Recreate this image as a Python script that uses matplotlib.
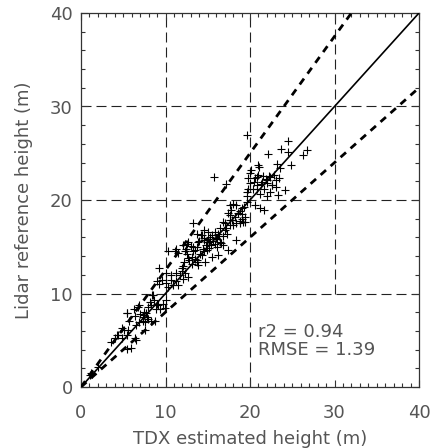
import matplotlib
matplotlib.use("Agg")
import matplotlib.pyplot as plt
from matplotlib.ticker import MultipleLocator

# TDX estimated canopy height vs. lidar reference height (m)
tdx_height = [
    19.6, 24.5, 23.7, 24.5, 26.8, 26.3, 22.1, 21.0, 23.2, 23.6, 24.9, 21.1, 20.1, 15.7, 17.2,
    19.8, 20.0, 20.8, 21.5, 21.9, 22.3, 22.8, 23.1, 23.4, 22.0, 22.6, 21.3, 20.5, 21.6, 22.4,
    24.1, 23.3, 22.0, 20.8, 21.2, 19.7, 19.6, 19.6, 19.3, 20.6, 21.2, 21.7, 18.0, 17.6, 18.8,
    19.1, 19.0, 18.8, 19.2, 17.6, 17.9, 18.3, 17.6, 16.4, 17.0, 16.8, 17.3, 18.4, 13.3, 16.0,
    16.2, 17.4,
    20.6, 21.0, 21.4, 22.0, 22.4, 22.6, 23.1, 20.8, 20.4, 20.0, 19.8,
    19.0, 18.4, 17.8, 18.6, 18.2, 19.4, 19.4, 18.8, 17.6, 17.4, 18.0, 17.0, 17.2, 16.2, 16.8,
    14.5, 14.3, 13.7, 14.5, 13.9, 13.3, 12.7, 12.1, 11.1, 12.3, 13.5, 13.1, 12.7, 13.7, 14.3,
    14.9, 16.1, 16.4, 16.8, 15.5, 14.7, 13.9, 12.1,
    14.8, 15.0, 15.2, 15.4, 15.6, 15.3, 14.9, 15.8, 15.1, 15.5, 16.1, 14.6, 15.9, 16.3, 14.4,
    16.6, 14.2, 15.0, 14.0,
    13.0, 12.6, 13.7, 12.4, 11.3, 11.5, 12.5, 13.2, 12.8, 12.2, 13.5, 13.7, 13.1, 14.1, 14.5,
    11.9, 10.3, 9.2,
    10.0, 10.6, 11.2, 11.7, 11.9, 12.3, 12.7, 12.1, 11.3, 10.6, 10.0, 10.9, 11.5, 10.3, 9.6,
    9.2, 9.0, 8.4, 8.6, 8.2, 9.0, 9.7, 10.1, 9.9, 9.3, 9.1, 8.3, 6.9, 6.3, 5.4,
    6.4, 7.0, 7.5, 7.9, 7.3, 7.6, 8.3, 8.7, 6.9, 6.5, 5.7, 4.9, 7.6, 6.4, 5.4,
    5.9, 4.4, 4.0, 3.6, 4.8, 5.6, 5.4, 6.5, 2.0, 1.2, 1.3, 1.1,
    7.5, 7.7, 7.3, 7.8, 5.5, 6.7, 7.9, 8.5, 8.9, 5.1, 4.3,
]
lidar_height = [
    27.0, 26.3, 25.5, 25.1, 25.3, 24.8, 24.9, 23.7, 23.8, 23.4, 23.7, 23.5, 23.2, 22.5, 21.7,
    22.3, 22.9, 22.5, 22.6, 22.2, 22.6, 22.7, 22.1, 22.4, 21.8, 21.6, 21.7, 21.9, 21.2, 20.9,
    21.1, 20.5, 20.4, 21.2, 20.6, 20.9, 20.4, 19.8, 19.3, 19.5, 19.1, 18.9, 19.6, 19.5, 18.8,
    18.5, 18.0, 17.8, 17.6, 18.4, 17.9, 17.5, 17.3, 17.0, 16.8, 17.6, 16.4, 15.7, 17.5, 15.9,
    14.1, 14.7,
    22.3, 22.7, 21.9, 22.1, 22.5, 21.6, 21.4, 21.6, 21.2, 21.8, 21.2,
    19.1, 19.5, 18.9, 18.6, 18.2, 18.2, 17.7, 17.5, 17.9, 18.6, 17.3, 17.5, 17.0, 16.4, 16.2,
    16.8, 16.3, 16.4, 15.7, 15.5, 15.0, 15.5, 15.2, 14.5, 14.5, 14.6, 13.9, 13.8, 13.6, 14.1,
    14.6, 15.0, 15.5, 15.2, 13.9, 13.4, 13.0, 12.9,
    15.2, 15.8, 15.5, 15.2, 15.6, 16.0, 15.5, 15.3, 14.9, 16.3, 15.8, 15.9, 16.6, 16.2, 14.8,
    15.4, 16.3, 16.6, 15.6,
    15.1, 15.3, 15.0, 14.8, 14.8, 14.3, 14.2, 14.5, 13.6, 13.4, 13.7, 13.4, 13.2, 14.2, 14.5,
    12.7, 14.5, 12.7,
    12.2, 12.0, 12.2, 12.0, 12.4, 12.2, 11.8, 11.5, 11.3, 11.4, 11.1, 10.9, 10.9, 10.7, 11.4,
    11.0, 11.3, 9.8, 9.3, 9.1, 8.9, 8.9, 9.3, 8.4, 8.3, 8.8, 8.8, 8.8, 8.3, 7.9,
    7.6, 7.8, 8.0, 7.3, 7.1, 7.0, 7.1, 7.1, 6.9, 6.6, 7.1, 6.3, 6.1, 5.2, 4.1,
    4.2, 5.6, 5.2, 4.8, 5.2, 6.1, 5.6, 5.0, 2.1, 1.5, 1.4, 1.3,
    7.7, 7.9, 7.5, 7.5, 7.9, 8.6, 8.6, 9.8, 8.3, 6.1, 5.6,
]
r2_value = 0.94
rmse_value = 1.39
band_slopes = [1.25, 0.8]
grid_values = [10, 20, 30]

text_color = "#555555"
plt.rcParams["font.family"] = ["DejaVu Sans"]

fig = plt.figure(figsize=(4.34, 4.48), dpi=100)
ax = fig.add_axes([81 / 434, 61 / 448, 338 / 434, 374 / 448])
ax.set_xlim(0, 40)
ax.set_ylim(0, 40)

# dashed reference grid; the x=30 line stops above the statistics box
for g in grid_values:
    ax.plot([0, 40], [g, g], color="#222222", lw=0.8, dashes=(9, 4.5), zorder=1)
    y_start = 10 if g == 30 else 0
    ax.plot([g, g], [y_start, 40], color="#222222", lw=0.8, dashes=(9, 4.5), zorder=1)

# 1:1 line and +/-25% bounds
ax.plot([0, 40], [0, 40], color="black", lw=1.2, zorder=3)
for s in band_slopes:
    ax.plot([0, 40], [0, 40 * s], color="black", lw=2.0, dashes=(2.6, 2.2), zorder=3)

ax.plot(tdx_height, lidar_height, linestyle="none", marker="+", ms=6,
        mew=0.8, color="black", zorder=4)

ax.text(21.0, 4.9, f"r2 = {r2_value:.2f}\nRMSE = {rmse_value:.2f}",
        fontsize=13, color=text_color, va="center", ha="left",
        linespacing=1.0, zorder=5)

ax.set_xticks([0, 10, 20, 30, 40])
ax.set_yticks([0, 10, 20, 30, 40])
ax.xaxis.set_minor_locator(MultipleLocator(1))
ax.yaxis.set_minor_locator(MultipleLocator(2))
ax.tick_params(which="both", direction="in", top=True, right=True,
               color="#333333", width=0.8)
ax.tick_params(which="major", length=5)
ax.tick_params(which="minor", length=3)
ax.tick_params(axis="x", which="major", pad=12, labelsize=13, labelcolor=text_color)
ax.tick_params(axis="y", which="major", pad=6, labelsize=13, labelcolor=text_color)
for sp in ax.spines.values():
    sp.set_color("#333333")
    sp.set_linewidth(0.9)

ax.set_xlabel("TDX estimated height (m)", fontsize=13, color=text_color, labelpad=6)
ax.set_ylabel("Lidar reference height (m)", fontsize=13, color=text_color, labelpad=12)

fig.savefig("out.png", dpi=100)
